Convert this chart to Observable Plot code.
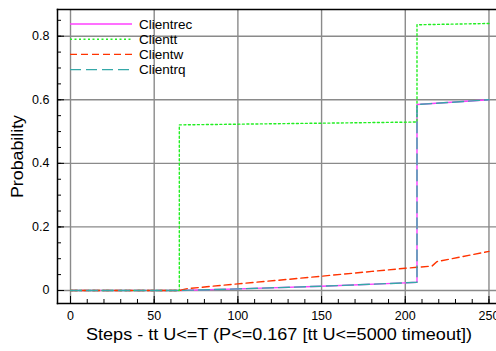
<!DOCTYPE html>
<html><head><meta charset="utf-8">
<script src="https://cdn.jsdelivr.net/npm/d3@7"></script>
<script src="https://cdn.jsdelivr.net/npm/@observablehq/plot@0.6"></script>
<style>
body{margin:0;background:#fff;font-family:"Liberation Sans",Arial,Helvetica,sans-serif}
#wrap{position:relative;width:496px;height:351px;overflow:hidden}
</style></head><body><div id="wrap"></div>
<script>
// Series names / styling keys
const seriesNames = ["Clientrec", "Clientt", "Clientw", "Clientrq"];
const seriesColors = ["#ff40ff", "#22ee22", "#ff3300", "#35a8a8"];
const seriesDash = [null, "2,2.5", "7,4", "11,5"];

// Values (step, probability)
const clientrecX = [0, 65, 100, 150, 200, 207, 207, 250];
const clientrecY = [0, 0, 0.005, 0.0135, 0.024, 0.026, 0.585, 0.600];

const clienttX = [0, 65, 65, 207, 207, 250];
const clienttY = [0, 0, 0.521, 0.530, 0.836, 0.840];

const clientwX = [0, 65, 70, 100, 130, 150, 180, 200, 207, 216, 219, 250];
const clientwY = [0, 0, 0.006, 0.021, 0.035, 0.045, 0.060, 0.070, 0.073, 0.077, 0.091, 0.123];

const clientrqX = [0, 65, 100, 150, 200, 207, 207, 250];
const clientrqY = [0, 0, 0.005, 0.0135, 0.024, 0.026, 0.585, 0.600];

// Ticks
const xMajorTicks = [0, 50, 100, 150, 200, 250];
const xMinorTicks = d3.range(0, 251, 10);
const yMajorTicks = [0, 0.2, 0.4, 0.6, 0.8];
const yMinorTicks = d3.range(0, 0.851, 0.05);

const xLabel = "Steps - tt U<=T (P<=0.167 [tt U<=5000 timeout])";
const yLabel = "Probability";

const xs = [clientrecX, clienttX, clientwX, clientrqX];
const ys = [clientrecY, clienttY, clientwY, clientrqY];
const series = seriesNames.map((name, i) => ({
  name, color: seriesColors[i], dash: seriesDash[i],
  data: xs[i].map((x, j) => ({x, y: ys[i][j]}))
}));

const font = `"Liberation Sans",Arial,Helvetica,sans-serif`;

const plot = Plot.plot({
  width: 496,
  height: 351,
  marginLeft: 57,
  marginTop: 9,
  marginBottom: 48,
  marginRight: 0,
  style: {fontFamily: font, fontSize: "12.5px", color: "#000", background: "#fff"},
  x: {domain: [-7.77, 254.5]},
  y: {domain: [-0.0409, 0.884]},
  marks: [
    Plot.gridX(xMajorTicks, {stroke: "#8a8a8a", strokeOpacity: 1, strokeWidth: 1.4}),
    Plot.gridY(yMajorTicks, {stroke: "#8a8a8a", strokeOpacity: 1, strokeWidth: 1.4}),
    ...series.map(s => Plot.line(s.data, {
      x: "x", y: "y", stroke: s.color, strokeWidth: 1.4,
      strokeDasharray: s.dash == null ? undefined : s.dash
    })),
    Plot.axisX(xMinorTicks, {tickSize: -4, tickFormat: () => "", label: null, strokeWidth: 1}),
    Plot.axisX(xMajorTicks, {tickSize: -7, tickFormat: () => "", label: null, strokeWidth: 1}),
    Plot.axisX(xMajorTicks, {tickSize: 0, tickPadding: 8, label: null, fontSize: 12.5}),
    Plot.axisY(yMinorTicks, {tickSize: -4, tickFormat: () => "", label: null}),
    Plot.axisY(yMajorTicks, {tickSize: -7, tickFormat: () => "", label: null}),
    Plot.axisY(yMajorTicks, {tickSize: 0, tickPadding: 8, label: null, fontSize: 12.5,
      tickFormat: d => d === 0 ? "0" : d3.format(".1f")(d)}),
    Plot.frame({anchor: "top", stroke: "#000", strokeWidth: 1.5}),
    Plot.frame({anchor: "left", stroke: "#000", strokeWidth: 1.5}),
    Plot.frame({anchor: "bottom", stroke: "#000", strokeWidth: 1.5})
  ]
});

const svg = d3.select(plot);
svg.append("text")
  .attr("x", 86).attr("y", 340)
  .attr("text-anchor", "start")
  .attr("font-size", 16).attr("font-family", font)
  .attr("textLength", 386).attr("lengthAdjust", "spacingAndGlyphs")
  .attr("fill", "#000")
  .text(xLabel);
svg.append("text")
  .attr("transform", "translate(23,198) rotate(-90)")
  .attr("text-anchor", "start")
  .attr("font-size", 16).attr("font-family", font)
  .attr("textLength", 83).attr("lengthAdjust", "spacingAndGlyphs")
  .attr("fill", "#000")
  .text(yLabel);

// Legend inside the plot area
const leg = svg.append("g").attr("class", "legend").attr("text-anchor", "start");
series.forEach((s, i) => {
  const y = 24 + i * 15.2;
  leg.append("line")
    .attr("x1", 70).attr("x2", 132).attr("y1", y).attr("y2", y)
    .attr("stroke", s.color).attr("stroke-width", 1.4)
    .attr("stroke-dasharray", s.dash);
  leg.append("text")
    .attr("x", 139).attr("y", y).attr("dy", "0.36em")
    .attr("text-anchor", "start")
    .attr("font-size", 13.5).attr("font-family", font).attr("fill", "#000")
    .text(s.name);
});

document.getElementById("wrap").appendChild(plot);
</script></body></html>
